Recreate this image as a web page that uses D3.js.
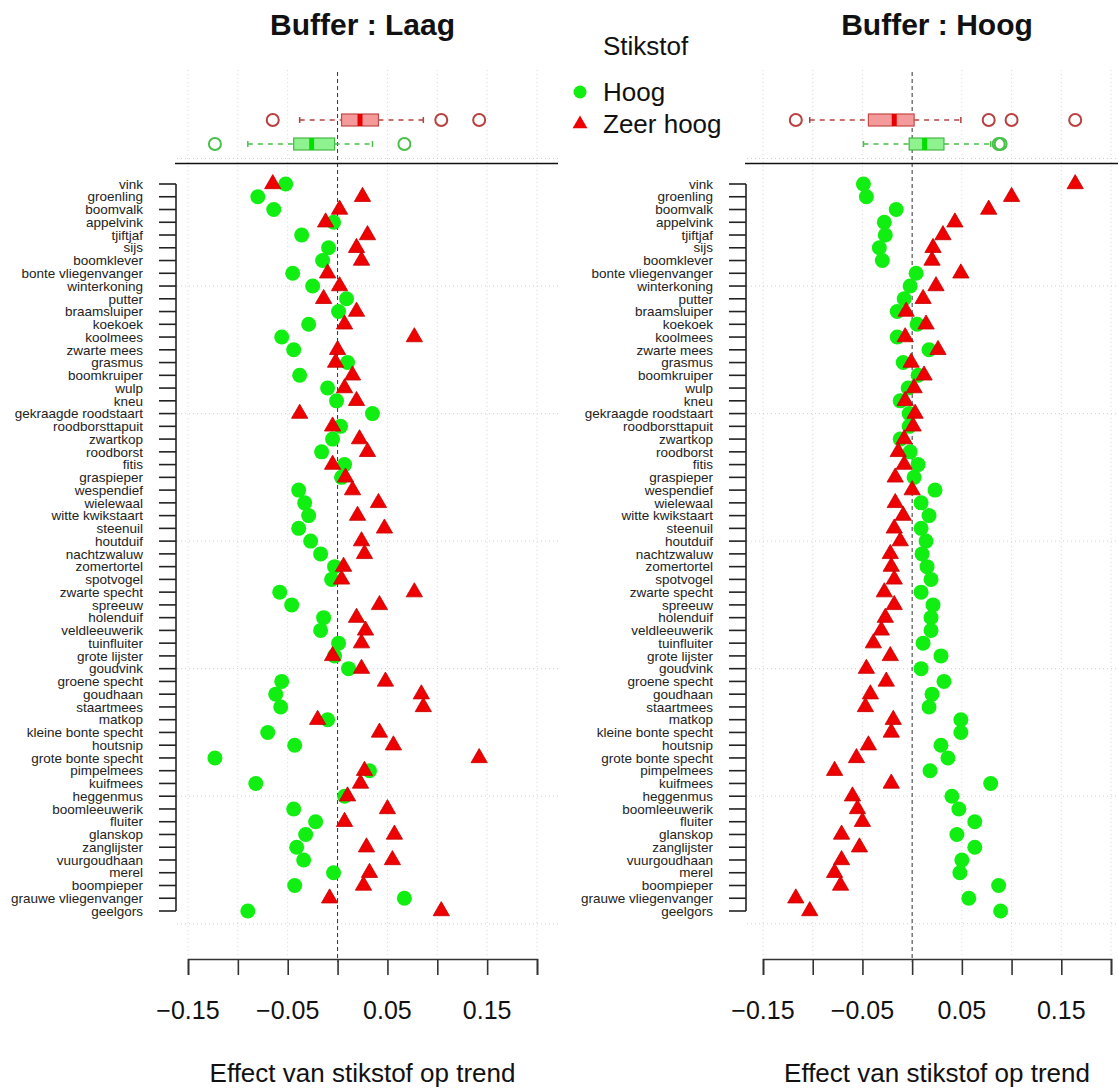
<!DOCTYPE html>
<html>
<head>
    <meta charset="utf-8" />
    <title>Effect van stikstof op trend</title>
    <script src="https://d3js.org/d3.v7.min.js"></script>
    <style>
        body { margin: 0; background: #fff; }
        text { font-family: "Liberation Sans", Arial, sans-serif; fill: #111; }
    </style>
</head>
<body>
<div id="chart"></div>
<script>
// soorten, van boven naar beneden
const species = ["vink", "groenling", "boomvalk", "appelvink", "tjiftjaf", "sijs", "boomklever",
    "bonte vliegenvanger", "winterkoning", "putter", "braamsluiper", "koekoek", "koolmees",
    "zwarte mees", "grasmus", "boomkruiper", "wulp", "kneu", "gekraagde roodstaart",
    "roodborsttapuit", "zwartkop", "roodborst", "fitis", "graspieper", "wespendief", "wielewaal",
    "witte kwikstaart", "steenuil", "houtduif", "nachtzwaluw", "zomertortel", "spotvogel",
    "zwarte specht", "spreeuw", "holenduif", "veldleeuwerik", "tuinfluiter", "grote lijster",
    "goudvink", "groene specht", "goudhaan", "staartmees", "matkop", "kleine bonte specht",
    "houtsnip", "grote bonte specht", "pimpelmees", "kuifmees", "heggenmus", "boomleeuwerik",
    "fluiter", "glanskop", "zanglijster", "vuurgoudhaan", "merel", "boompieper",
    "grauwe vliegenvanger", "geelgors"];

// Buffer : Laag
const laagHoog = [-0.052, -0.080, -0.064, -0.004, -0.036, -0.009, -0.015, -0.045, -0.025, 0.009,
    0.001, -0.029, -0.056, -0.044, 0.010, -0.038, -0.010, -0.001, 0.035, 0.003, -0.005, -0.016,
    0.007, 0.004, -0.039, -0.033, -0.029, -0.039, -0.027, -0.017, -0.003, -0.006, -0.058, -0.046,
    -0.014, -0.017, 0.001, -0.003, 0.011, -0.056, -0.062, -0.057, -0.010, -0.070, -0.043, -0.123,
    0.032, -0.082, 0.007, -0.044, -0.022, -0.032, -0.041, -0.034, -0.004, -0.043, 0.067, -0.090];
const laagZeerHoog = [-0.065, 0.025, 0.002, -0.012, 0.030, 0.019, 0.024, -0.010, 0.002, -0.014,
    0.019, 0.007, 0.077, 0.000, -0.002, 0.015, 0.007, 0.019, -0.038, -0.005, 0.022, 0.030,
    -0.005, 0.008, 0.015, 0.041, 0.020, 0.047, 0.024, 0.027, 0.006, 0.004, 0.077, 0.042,
    0.019, 0.028, 0.024, -0.005, 0.024, 0.048, 0.084, 0.086, -0.020, 0.042, 0.056, 0.142,
    0.027, 0.023, 0.010, 0.050, 0.007, 0.057, 0.029, 0.055, 0.032, 0.026, -0.008, 0.104];

// Buffer : Hoog
const hoogHoog = [-0.049, -0.046, -0.016, -0.028, -0.027, -0.033, -0.030, 0.004, -0.002, -0.008,
    -0.015, 0.005, -0.015, 0.017, -0.009, 0.006, -0.004, -0.012, -0.003, -0.003, -0.012, -0.002,
    0.006, 0.002, 0.023, 0.009, 0.017, 0.009, 0.014, 0.010, 0.015, 0.019, 0.009, 0.021,
    0.019, 0.019, 0.011, 0.029, 0.009, 0.032, 0.020, 0.017, 0.049, 0.049, 0.029, 0.036,
    0.018, 0.079, 0.040, 0.047, 0.063, 0.045, 0.063, 0.050, 0.048, 0.087, 0.057, 0.089];
const hoogZeerHoog = [0.164, 0.100, 0.077, 0.043, 0.031, 0.021, 0.020, 0.049, 0.024, 0.011,
    -0.006, 0.014, -0.007, 0.026, -0.001, 0.012, 0.002, -0.007, 0.003, 0.001, -0.008, -0.014,
    -0.008, -0.017, 0.000, -0.017, -0.009, -0.018, -0.012, -0.022, -0.021, -0.018, -0.028, -0.018,
    -0.027, -0.031, -0.039, -0.022, -0.046, -0.026, -0.042, -0.047, -0.019, -0.021, -0.044, -0.056,
    -0.078, -0.021, -0.060, -0.055, -0.050, -0.071, -0.053, -0.071, -0.078, -0.072, -0.117, -0.103];

const xTicks = [-0.15, -0.10, -0.05, 0, 0.05, 0.10, 0.15, 0.20];
const xTickLabels = [-0.15, -0.05, 0.05, 0.15];
const groupNames = ["Hoog", "Zeer hoog"];

const W = 1118, H = 1088;
const green = "#11ee11", red = "#ee0000";

const svg = d3.select("#chart").append("svg")
    .attr("width", W).attr("height", H);
svg.append("rect").attr("width", W).attr("height", H).attr("fill", "#fff");

const y = d3.scaleLinear().domain([0, species.length - 1]).range([184, 911]);

// R fivenum + boxplot.stats
function boxStats(values) {
    const s = values.slice().sort(d3.ascending);
    const n = s.length;
    const n4 = Math.floor((n + 3) / 2) / 2;
    const at = d => 0.5 * (s[Math.floor(d) - 1] + s[Math.ceil(d) - 1]);
    const q1 = at(n4), med = at((n + 1) / 2), q3 = at(n + 1 - n4);
    const iqr = q3 - q1;
    const inside = s.filter(v => v >= q1 - 1.5 * iqr && v <= q3 + 1.5 * iqr);
    const out = s.filter(v => v < q1 - 1.5 * iqr || v > q3 + 1.5 * iqr);
    return {q1, med, q3, lo: d3.min(inside), hi: d3.max(inside), out};
}

function drawPanel(opt) {
    const x = d3.scaleLinear().domain([-0.15, 0.20]).range(opt.range);
    const g = svg.append("g");

    // titel
    g.append("text").attr("x", (opt.range[0] + opt.range[1]) / 2).attr("y", 35)
        .attr("text-anchor", "middle").style("font-size", "30px").style("font-weight", "bold")
        .text(opt.title);

    // verticale stippellijnen
    g.selectAll(".vgrid").data(xTicks.filter(d => d !== 0)).join("line")
        .attr("x1", d => x(d)).attr("x2", d => x(d)).attr("y1", 70).attr("y2", 956)
        .attr("stroke", "#d8d8d8").attr("stroke-width", 1).attr("stroke-dasharray", "1,3");

    // horizontale stippellijnen (elke 10 soorten)
    g.selectAll(".hgrid").data([-2, 8, 18, 28, 38, 48, 58]).join("line")
        .attr("x1", opt.left).attr("x2", opt.right)
        .attr("y1", d => y(d)).attr("y2", d => y(d))
        .attr("stroke", "#d0d0d0").attr("stroke-width", 1).attr("stroke-dasharray", "1,3");

    // nul-lijn
    g.append("line").attr("x1", x(0)).attr("x2", x(0)).attr("y1", 72).attr("y2", 962)
        .attr("stroke", "#333").attr("stroke-width", 1).attr("stroke-dasharray", "4,3");

    // scheidingslijn boxplot / dotplot
    g.append("line").attr("x1", opt.left - 2).attr("x2", opt.right).attr("y1", 163.5).attr("y2", 163.5)
        .attr("stroke", "#111").attr("stroke-width", 1.6);

    // boxplots
    const boxes = [
        {vals: opt.zeer, cy: 120, fill: "#f59a9a", stroke: "#c24a48", mid: "#e80000", out: "#b8403e"},
        {vals: opt.hoog, cy: 144, fill: "#8ef28e", stroke: "#46b846", mid: "#00e000", out: "#48c048"}
    ];
    boxes.forEach(b => {
        const st = boxStats(b.vals);
        const bg = g.append("g");
        bg.append("line").attr("x1", x(st.lo)).attr("x2", x(st.q1)).attr("y1", b.cy).attr("y2", b.cy)
            .attr("stroke", b.out).attr("stroke-width", 1.5).attr("stroke-dasharray", "5,5");
        bg.append("line").attr("x1", x(st.q3)).attr("x2", x(st.hi)).attr("y1", b.cy).attr("y2", b.cy)
            .attr("stroke", b.out).attr("stroke-width", 1.5).attr("stroke-dasharray", "5,5");
        [st.lo, st.hi].forEach(v => bg.append("line")
            .attr("x1", x(v)).attr("x2", x(v)).attr("y1", b.cy - 3).attr("y2", b.cy + 3)
            .attr("stroke", b.out).attr("stroke-width", 1.5));
        bg.append("rect").attr("x", x(st.q1)).attr("y", b.cy - 6)
            .attr("width", x(st.q3) - x(st.q1)).attr("height", 12)
            .attr("fill", b.fill).attr("stroke", b.stroke).attr("stroke-width", 1.2);
        bg.append("rect").attr("x", x(st.med) - 2.5).attr("y", b.cy - 6)
            .attr("width", 5).attr("height", 12).attr("fill", b.mid);
        bg.selectAll("circle").data(st.out).join("circle")
            .attr("cx", d => x(d)).attr("cy", b.cy).attr("r", 6)
            .attr("fill", "none").attr("stroke", b.out).attr("stroke-width", 2);
    });

    // y-as
    const ax = opt.left - 1;
    g.append("line").attr("x1", ax).attr("x2", ax).attr("y1", y(0)).attr("y2", y(species.length - 1))
        .attr("stroke", "#222").attr("stroke-width", 1.6);
    g.selectAll(".ytick").data(species).join("line")
        .attr("x1", ax - 17).attr("x2", ax).attr("y1", (d, i) => y(i)).attr("y2", (d, i) => y(i))
        .attr("stroke", "#222").attr("stroke-width", 1.6);
    g.selectAll(".ylab").data(species).join("text")
        .attr("x", ax - 33).attr("y", (d, i) => y(i)).attr("dy", "0.35em")
        .attr("text-anchor", "end").style("font-size", "13.5px").style("fill", "#222")
        .text(d => d);

    // punten: eerst Hoog, dan Zeer hoog
    g.selectAll(".pHoog").data(opt.hoog).join("circle")
        .attr("cx", d => x(d)).attr("cy", (d, i) => y(i)).attr("r", 7.5).attr("fill", green);
    const tri = d3.symbol().type(d3.symbolTriangle).size(115);
    g.selectAll(".pZeer").data(opt.zeer).join("path")
        .attr("d", tri).attr("transform", (d, i) => `translate(${x(d)},${y(i)})`)
        .attr("fill", red).attr("stroke", "#c80000").attr("stroke-width", 0.8);

    // x-as
    const axis = d3.axisBottom(x).tickValues(xTicks).tickSize(16).tickFormat("");
    const xa = g.append("g").attr("transform", "translate(0,959)").call(axis);
    xa.select(".domain").attr("stroke", "#333").attr("stroke-width", 1.6);
    xa.selectAll(".tick line").attr("stroke", "#333").attr("stroke-width", 1.6);
    g.selectAll(".xlab").data(xTickLabels).join("text")
        .attr("x", d => x(d)).attr("y", 1010).attr("dy", "0.35em").attr("text-anchor", "middle")
        .style("font-size", "25px").text(d => d3.format(".2f")(d));
    g.append("text").attr("x", (opt.range[0] + opt.range[1]) / 2).attr("y", 1073).attr("dy", "0.35em")
        .attr("text-anchor", "middle").style("font-size", "26px").text("Effect van stikstof op trend");
}

drawPanel({title: "Buffer : Laag", range: [188, 537], left: 177, right: 558, hoog: laagHoog, zeer: laagZeerHoog});
drawPanel({title: "Buffer : Hoog", range: [763, 1111], left: 747, right: 1118, hoog: hoogHoog, zeer: hoogZeerHoog});

// legenda
const lg = svg.append("g");
lg.append("text").attr("x", 603).attr("y", 46).attr("dy", "0.35em").style("font-size", "26px").text("Stikstof");
lg.append("circle").attr("cx", 580).attr("cy", 92).attr("r", 6.5).attr("fill", green);
lg.append("path").attr("d", d3.symbol().type(d3.symbolTriangle).size(95))
    .attr("transform", "translate(580,124)").attr("fill", red);
lg.selectAll(".lt").data(groupNames).join("text")
    .attr("x", 603).attr("y", (d, i) => 92 + i * 32).attr("dy", "0.35em")
    .style("font-size", "26px").text(d => d);
</script>
</body>
</html>
